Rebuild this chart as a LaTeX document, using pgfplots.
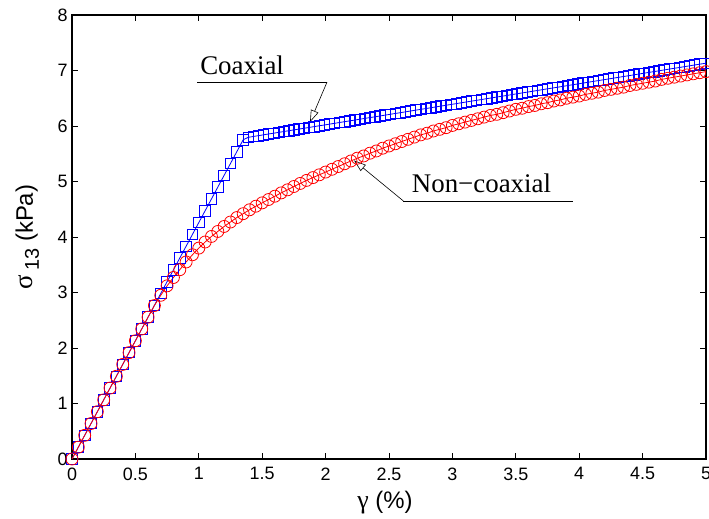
\documentclass[border=0pt]{standalone}
\usepackage{fontspec}
\setmainfont{Liberation Sans}
\newfontfamily\serif{Liberation Serif}
\usepackage{pgfplots}
\pgfplotsset{compat=1.18}
\usetikzlibrary{arrows.meta}

\begin{document}
\begin{tikzpicture}
\begin{axis}[
  scale only axis, width=634bp, height=444bp,
  xmin=0, xmax=5, ymin=0, ymax=8,
  xtick={0,0.5,...,5}, ytick={0,1,...,8},
  xticklabels={0,0.5,1,1.5,2,2.5,3,3.5,4,4.5,5},
  tick align=inside, xtick pos=both, ytick pos=both,
  major tick length=6bp,
  axis line style={line width=1.1bp},
  every tick/.style={black, line width=0.9bp},
  /pgf/number format/assume math mode=true,
  tick label style={font=\fontsize{18}{19}\selectfont},
  xticklabel style={yshift=-5bp},
  yticklabel style={xshift=-1bp},
  xlabel={{\serif\fontsize{26}{26}\selectfont γ} (\%)},
  ylabel={{\serif\fontsize{27}{27}\selectfont σ}\,\raisebox{-6bp}{\fontsize{20}{20}\selectfont 13} (kPa)},
  xlabel style={font=\fontsize{24}{25}\selectfont, at={(rel axis cs:0.5,0)}, anchor=base, yshift=-50bp, xshift=-4bp},
  ylabel style={font=\fontsize{24}{25}\selectfont, at={(rel axis cs:0,0.5)}, anchor=base, yshift=39bp},
  clip=false,
]
\coordinate (ll) at (rel axis cs:0,0);
\coordinate (ur) at (rel axis cs:1,1);

% coaxial
\addplot[blue, line width=0.8bp, mark=square, mark size=5.3bp, mark options={line width=0.8bp}] coordinates {
(0,0)(0.05,0.213)(0.10,0.426)(0.15,0.639)(0.20,0.852)(0.25,1.065)(0.30,1.278)(0.35,1.491)
(0.40,1.704)(0.45,1.917)(0.50,2.130)(0.55,2.343)(0.60,2.556)(0.65,2.769)(0.70,2.982)
(0.75,3.195)(0.80,3.408)(0.85,3.621)(0.90,3.834)(0.95,4.047)(1.00,4.260)(1.05,4.473)
(1.10,4.686)(1.15,4.899)(1.20,5.112)(1.25,5.325)(1.30,5.538)(1.35,5.751)
(1.39,5.796)(1.43,5.811)(1.47,5.826)(1.51,5.841)(1.55,5.856)(1.59,5.870)(1.63,5.885)
(1.67,5.900)(1.71,5.915)(1.75,5.930)(1.79,5.944)(1.83,5.959)(1.87,5.974)(1.91,5.989)
(1.95,6.004)(1.99,6.018)(2.03,6.033)(2.07,6.048)(2.11,6.063)(2.15,6.078)(2.19,6.092)
(2.23,6.107)(2.27,6.122)(2.31,6.137)(2.35,6.152)(2.39,6.166)(2.43,6.181)(2.47,6.196)
(2.51,6.211)(2.55,6.226)(2.59,6.240)(2.63,6.255)(2.67,6.270)(2.71,6.285)(2.75,6.300)
(2.79,6.314)(2.83,6.329)(2.87,6.344)(2.91,6.359)(2.95,6.374)(2.99,6.388)(3.03,6.403)
(3.07,6.418)(3.11,6.433)(3.15,6.448)(3.19,6.462)(3.23,6.477)(3.27,6.492)(3.31,6.507)
(3.35,6.522)(3.39,6.536)(3.43,6.551)(3.47,6.566)(3.51,6.581)(3.55,6.596)(3.59,6.610)
(3.63,6.625)(3.67,6.640)(3.71,6.655)(3.75,6.670)(3.79,6.684)(3.83,6.699)(3.87,6.714)
(3.91,6.729)(3.95,6.744)(3.99,6.758)(4.03,6.773)(4.07,6.788)(4.11,6.803)(4.15,6.818)
(4.19,6.832)(4.23,6.847)(4.27,6.862)(4.31,6.877)(4.35,6.892)(4.39,6.906)(4.43,6.921)
(4.47,6.936)(4.51,6.951)(4.55,6.966)(4.59,6.980)(4.63,6.995)(4.67,7.010)(4.71,7.025)
(4.75,7.040)(4.79,7.054)(4.83,7.069)(4.87,7.084)(4.91,7.099)(4.95,7.114)(4.99,7.128)
};

% non-coaxial
\addplot[red, line width=0.8bp, mark=o, mark size=6bp, mark options={line width=0.8bp}] coordinates {
(0,0)(0.05,0.213)(0.10,0.426)(0.15,0.639)(0.20,0.852)(0.25,1.065)(0.30,1.278)(0.35,1.491)
(0.40,1.704)(0.45,1.917)(0.50,2.130)(0.55,2.343)(0.60,2.556)(0.65,2.765)(0.70,2.95)
(0.75,3.12)(0.80,3.27)(0.85,3.41)(0.90,3.55)(0.95,3.68)(1.00,3.80)(1.05,3.91)(1.10,4.01)
(1.15,4.10)(1.20,4.19)(1.25,4.27)(1.30,4.35)(1.35,4.42)(1.40,4.49)(1.45,4.555)(1.50,4.615)
(1.55,4.675)(1.60,4.735)(1.65,4.795)(1.70,4.85)(1.75,4.91)(1.80,4.965)(1.85,5.02)(1.90,5.07)
(1.95,5.12)(2.00,5.17)(2.05,5.22)(2.10,5.27)(2.15,5.32)(2.20,5.37)(2.25,5.42)(2.30,5.46)
(2.35,5.51)(2.40,5.55)(2.45,5.60)(2.50,5.64)(2.55,5.68)(2.60,5.72)(2.65,5.76)(2.70,5.80)
(2.75,5.84)(2.80,5.87)(2.85,5.91)(2.90,5.94)(2.95,5.97)(3.00,6.01)(3.05,6.04)(3.10,6.07)
(3.15,6.10)(3.20,6.13)(3.25,6.16)(3.30,6.19)(3.35,6.21)(3.40,6.24)(3.45,6.27)(3.50,6.30)
(3.55,6.32)(3.60,6.35)(3.65,6.37)(3.70,6.40)(3.75,6.42)(3.80,6.45)(3.85,6.47)(3.90,6.50)
(3.95,6.52)(4.00,6.54)(4.05,6.57)(4.10,6.59)(4.15,6.61)(4.20,6.64)(4.25,6.66)(4.30,6.68)
(4.35,6.70)(4.40,6.73)(4.45,6.75)(4.50,6.77)(4.55,6.79)(4.60,6.81)(4.65,6.84)(4.70,6.86)
(4.75,6.88)(4.80,6.90)(4.85,6.92)(4.90,6.94)(4.95,6.96)(5.00,6.98)
};

% annotations
\draw[line width=0.6bp] (axis cs:0.986,6.79) -- (axis cs:2.011,6.79);
\draw[line width=0.6bp, -{Triangle[length=12bp,width=8bp,fill=white]}] (axis cs:2.011,6.79) -- (axis cs:1.877,6.07);
\node[anchor=base west, inner sep=0, font=\serif\fontsize{27}{28}\selectfont] at (axis cs:1.01,6.93) {Coaxial};
\draw[line width=0.6bp] (axis cs:3.951,4.65) -- (axis cs:2.613,4.65);
\draw[line width=0.6bp, -{Triangle[length=12bp,width=8bp,fill=white]}] (axis cs:2.613,4.65) -- (axis cs:2.224,5.38);
\node[anchor=base west, inner sep=0, font=\serif\fontsize{27}{28}\selectfont] at (axis cs:2.679,4.80) {Non−coaxial};
\end{axis}
\pgfresetboundingbox
\path ([shift={(-72bp,-60bp)}]ll) rectangle ([shift={(3bp,15bp)}]ur);
\end{tikzpicture}
\end{document}
